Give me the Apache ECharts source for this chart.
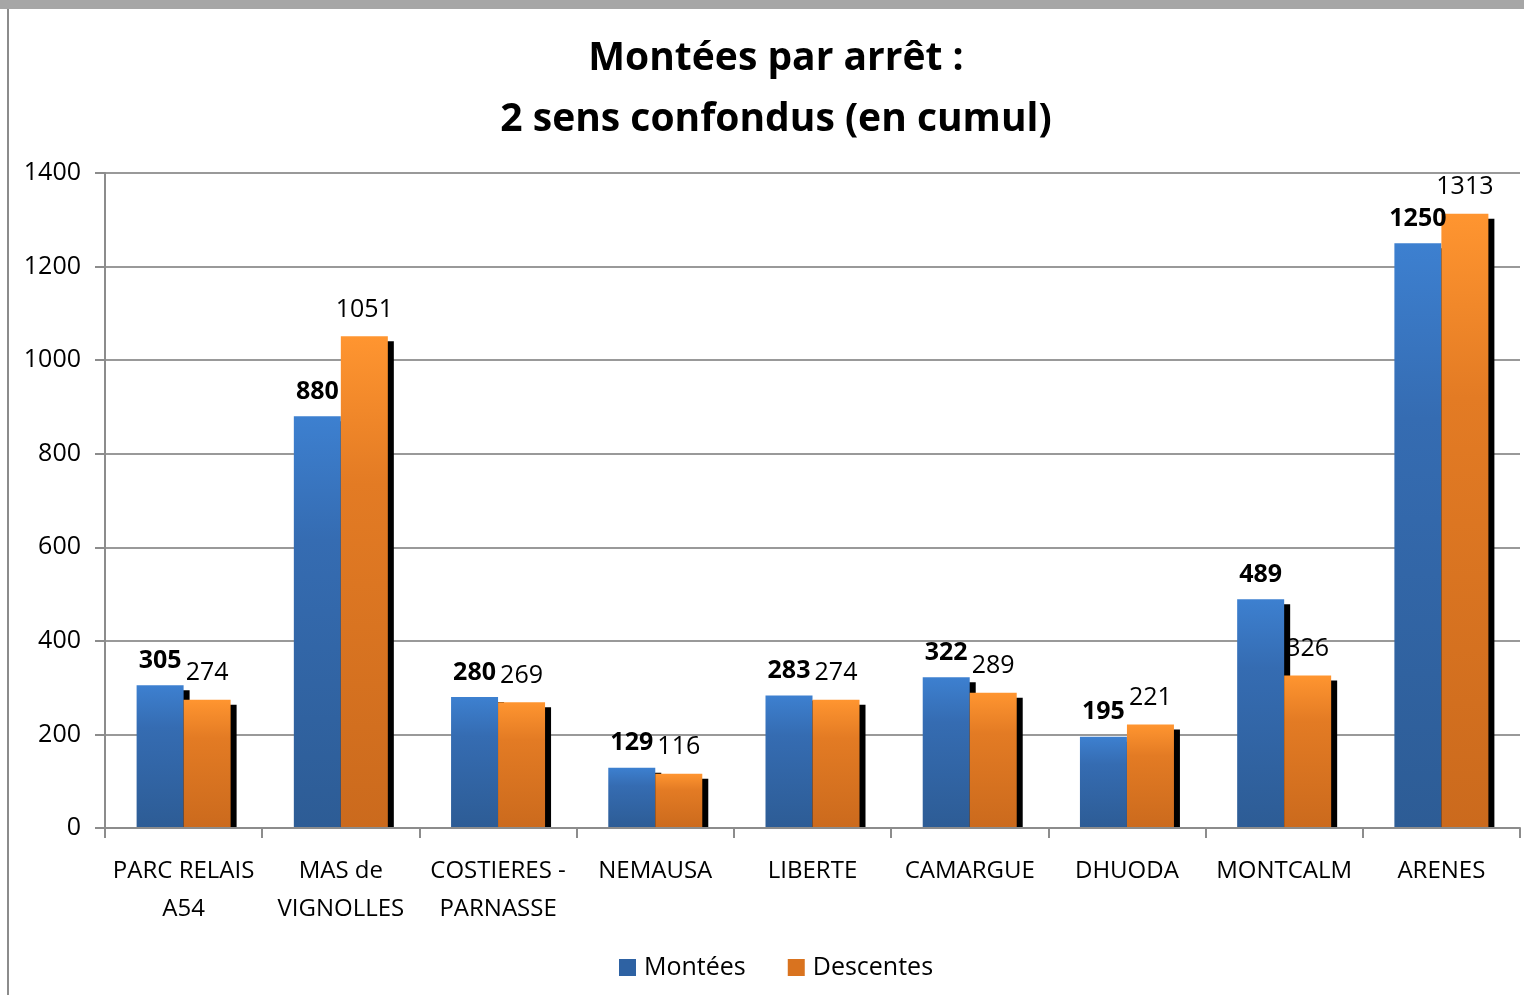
<!DOCTYPE html>
<html><head><meta charset="utf-8">
<script src="https://cdn.jsdelivr.net/npm/echarts@6/dist/echarts.min.js"></script>
<style>html,body{margin:0;padding:0;background:#fff}#c{width:1524px;height:995px}</style>
</head><body><div id="c"></div>
<script>
const categories = ['PARC RELAIS\nA54', 'MAS de\nVIGNOLLES', 'COSTIERES -\nPARNASSE', 'NEMAUSA', 'LIBERTE', 'CAMARGUE', 'DHUODA', 'MONTCALM', 'ARENES'];
const montees = [305, 880, 280, 129, 283, 322, 195, 489, 1250];
const descentes = [274, 1051, 269, 116, 274, 289, 221, 326, 1313];
const yTicks = {min: 0, max: 1400, interval: 200};

const FONT = '"Open Sans", "Noto Sans", sans-serif';
const chart = echarts.init(document.getElementById('c'));
const blueGrad = new echarts.graphic.LinearGradient(0, 0, 0, 1, [
  {offset: 0, color: '#3d80d0'}, {offset: 0.3, color: '#356cb2'}, {offset: 1, color: '#2d5c95'}]);
const orangeGrad = new echarts.graphic.LinearGradient(0, 0, 0, 1, [
  {offset: 0, color: '#ff9530'}, {offset: 0.3, color: '#e37b24'}, {offset: 1, color: '#cb6a1d'}]);
const shadow = {shadowColor: '#000', shadowBlur: 0, shadowOffsetX: 6, shadowOffsetY: 5};
chart.setOption({
  animation: false,
  backgroundColor: '#fff',
  title: {
    text: 'Montées par arrêt :\n2 sens confondus (en cumul)',
    left: 771, top: 23, textAlign: 'center',
    textStyle: {fontFamily: FONT, fontWeight: 'bold', fontSize: 39, lineHeight: 61, color: '#000'}
  },
  graphic: [
    {type: 'rect', shape: {x: 0, y: 0, width: 1524, height: 9}, style: {fill: '#a6a6a6'}, z: 100},
    {type: 'rect', shape: {x: 7, y: 9, width: 2, height: 986}, style: {fill: '#8c8c8c'}, z: 100},
    {type: 'rect', shape: {x: 107, y: 829, width: 1415, height: 8}, style: {fill: '#fff'}, z: 5}
  ],
  legend: {
    bottom: 10, left: 614, itemWidth: 17, itemHeight: 17, itemGap: 42,
    icon: 'rect',
    textStyle: {fontFamily: FONT, fontSize: 25, color: '#000', padding: [0, 0, 0, 3]},
    data: [{name: 'Montées', itemStyle: {color: '#2e62a3'}}, {name: 'Descentes', itemStyle: {color: '#d9731f'}}]
  },
  grid: {left: 105, right: 4, top: 173, bottom: 167, containLabel: false},
  xAxis: {
    type: 'category', data: categories, z: 10,
    axisLine: {lineStyle: {color: '#8c8c8c', width: 2}},
    axisTick: {show: true, length: 10, lineStyle: {color: '#8c8c8c', width: 2}},
    axisLabel: {fontFamily: FONT, fontSize: 24, color: '#000', margin: 24, lineHeight: 38, interval: 0}
  },
  yAxis: {
    type: 'value', min: yTicks.min, max: yTicks.max, interval: yTicks.interval,
    axisLine: {show: true, lineStyle: {color: '#8c8c8c', width: 2}},
    axisTick: {show: true, length: 10, lineStyle: {color: '#8c8c8c', width: 2}},
    splitLine: {lineStyle: {color: '#999', width: 2}},
    axisLabel: {fontFamily: FONT, fontSize: 25, color: '#000', margin: 24, formatter: v => String(v)}
  },
  series: [
    {name: 'Montées', type: 'bar', data: montees, barWidth: 47, barGap: '0%',
     itemStyle: Object.assign({color: blueGrad}, shadow),
     label: {show: true, position: 'top', distance: 12, fontFamily: FONT, fontWeight: 'bold', fontSize: 25, color: '#000'}},
    {name: 'Descentes', type: 'bar', data: descentes, barWidth: 47,
     itemStyle: Object.assign({color: orangeGrad}, shadow),
     label: {show: true, position: 'top', distance: 14, fontFamily: FONT, fontSize: 25, color: '#000'}}
  ]
});
</script></body></html>
